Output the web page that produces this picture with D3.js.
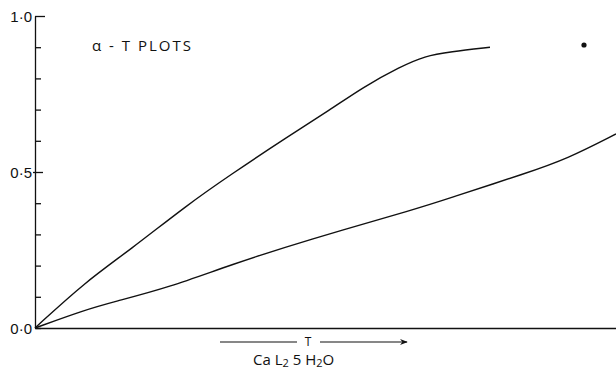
<!DOCTYPE html>
<html>
<head>
<meta charset="utf-8">
<script src="https://cdn.jsdelivr.net/npm/d3@7"></script>
<style>
	body { margin: 0; background: #fff; }
	svg { display: block; font-family: 'Open Sans', sans-serif; }
	.axis path, .axis line { stroke: #111; stroke-width: 1.3; }
	.axis text { font-size: 15px; fill: #111; }
	.curve { fill: none; stroke: #111; stroke-width: 1.4; }
</style>
</head>
<body>
<div id="chart"></div>
<script>
// readings, T in arbitrary units
const upperT = [0, 5, 9.5, 15.2, 19.5, 25.2, 29.5, 32.8, 36.5, 39, 41.5, 45.5];
const upperAlpha = [0, 0.147, 0.25, 0.394, 0.49, 0.612, 0.699, 0.772, 0.837, 0.872, 0.885, 0.9];
const lowerT = [0, 5, 7.8, 13.5, 19.5, 27.2, 38.5, 41.5, 49.2, 53.2, 58.1];
const lowerAlpha = [0, 0.058, 0.083, 0.131, 0.202, 0.282, 0.385, 0.417, 0.497, 0.542, 0.622];
const strayPoint = {t: 54.9, alpha: 0.907};
const yTicks = [0, 0.1, 0.2, 0.3, 0.4, 0.5, 0.6, 0.7, 0.8, 0.9, 1.0];
const yLabels = {0: '0·0', 0.5: '0·5', 1: '1·0'};

const width = 616;
const height = 371;
const margins = {left: 35, right: 0, top: 16, bottom: 43};
const graphWidth = width - margins.left - margins.right;
const graphHeight = height - margins.top - margins.bottom;

const svg = d3.select('#chart').append('svg')
	.attr('width', width)
	.attr('height', height);

const g = svg.append('g')
	.attr('transform', `translate(${margins.left},${margins.top})`);

const x = d3.scaleLinear()
	.domain([0, 58.1])
	.range([0, graphWidth]);

const y = d3.scaleLinear()
	.domain([0, 1])
	.range([graphHeight, 0]);

// y axis, ticks pointing inwards
const yAxis = d3.axisLeft(y)
	.tickValues(yTicks)
	.tickSizeInner(-6)
	.tickSizeOuter(0)
	.tickPadding(3)
	.tickFormat(d => yLabels[Math.round(d * 10) / 10] || '');

const yAxisG = g.append('g')
	.attr('class', 'axis')
	.call(yAxis);

yAxisG.selectAll('.tick')
	.filter(d => d === 0.5)
	.select('line')
	.attr('x1', -2)
	.attr('x2', 8);

yAxisG.selectAll('.tick')
	.filter(d => d === 1)
	.select('line')
	.attr('x2', 10);

yAxisG.selectAll('.tick text')
	.attr('dy', '0.35em');

// x axis, no ticks
g.append('g')
	.attr('class', 'axis')
	.attr('transform', `translate(0,${graphHeight})`)
	.call(d3.axisBottom(x).tickValues([]).tickSizeOuter(0));

const line = d3.line()
	.x(d => x(d[0]))
	.y(d => y(d[1]))
	.curve(d3.curveBasis);

g.append('path')
	.attr('class', 'curve')
	.attr('d', line(d3.zip(upperT, upperAlpha)));

g.append('path')
	.attr('class', 'curve')
	.attr('d', line(d3.zip(lowerT, lowerAlpha)));

g.append('circle')
	.attr('cx', x(strayPoint.t))
	.attr('cy', y(strayPoint.alpha))
	.attr('r', 2.6)
	.attr('fill', '#111');

// title
g.append('text')
	.attr('x', 57)
	.attr('y', 35)
	.attr('font-size', 15)
	.attr('letter-spacing', 2)
	.attr('fill', '#111')
	.text('α - T  PLOTS');

// T arrow under the axis
const arrowY = graphHeight + 14;
svg.append('defs').append('marker')
	.attr('id', 'arrow')
	.attr('viewBox', '0 0 10 10')
	.attr('refX', 9)
	.attr('refY', 5)
	.attr('markerWidth', 9)
	.attr('markerHeight', 7)
	.attr('orient', 'auto')
	.append('path')
	.attr('d', 'M0,1 L10,5 L0,9 L3,5 Z')
	.attr('fill', '#111');

g.append('line')
	.attr('x1', 185).attr('x2', 262)
	.attr('y1', arrowY).attr('y2', arrowY)
	.attr('stroke', '#111').attr('stroke-width', 1.1);

g.append('line')
	.attr('x1', 285).attr('x2', 372)
	.attr('y1', arrowY).attr('y2', arrowY)
	.attr('stroke', '#111').attr('stroke-width', 1.1)
	.attr('marker-end', 'url(#arrow)');

g.append('text')
	.attr('x', 273)
	.attr('y', arrowY + 4)
	.attr('text-anchor', 'middle')
	.attr('font-size', 12)
	.attr('fill', '#111')
	.text('T');

const formula = g.append('text')
	.attr('x', 218)
	.attr('y', graphHeight + 37)
	.attr('font-size', 15)
	.attr('fill', '#111');
formula.append('tspan').text('Ca L');
formula.append('tspan').attr('font-size', 11).attr('dy', 2).text('2');
formula.append('tspan').attr('dy', -2).text(' 5 H');
formula.append('tspan').attr('font-size', 11).attr('dy', 2).text('2');
formula.append('tspan').attr('dy', -2).text('O');
</script>
</body>
</html>
